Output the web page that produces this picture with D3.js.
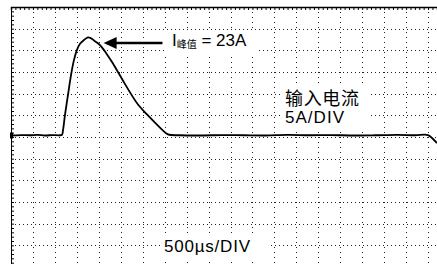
<!DOCTYPE html>
<html>
<head>
<meta charset="utf-8">
<script src="https://cdn.jsdelivr.net/npm/d3@7"></script>
<style>
  body { margin: 0; background: #fff; }
  svg { display: block; }
  text { font-family: "Liberation Sans", Arial, "Noto Sans CJK SC", sans-serif; fill: #000; }
</style>
</head>
<body>
<div id="scope"></div>
<script>
// trace: time in µs, current in A
let traceTime = [0, 220, 433, 600, 775, 950, 1100, 1162, 1185, 1230, 1298, 1367, 1435, 1503, 1572, 1663, 1754, 1822, 1913, 2027, 2164, 2301, 2437, 2574, 2711, 2893, 3098, 3280, 3440, 3576, 3850, 4300, 4800, 5300, 5800, 6300, 6800, 7300, 7800, 8300, 8800, 9200, 9499, 9590, 9704]
let traceAmps = [0.35, 0.45, 0.4, 0.5, 0.35, 0.45, 0.4, 0.5, 1.6, 5.1, 9.7, 14.3, 17.8, 20.1, 21.5, 22.4, 23.0, 22.8, 22.1, 21.2, 19.4, 17.3, 15.0, 12.6, 10.3, 7.5, 5.2, 3.3, 1.7, 0.6, 0.4, 0.35, 0.45, 0.4, 0.35, 0.5, 0.4, 0.45, 0.35, 0.4, 0.5, 0.4, 0.45, -0.23, -1.4]

// scope settings
let timePerDiv = 500   // µs
let ampsPerDiv = 5     // A
let xDivs = 20
let yDivs = [-30, 30]

// annotation
let peakLabel = 'I'
let peakSub = '峰值'
let peakValue = ' = 23A'
let arrowAmps = 21.7
let arrowTip = 2110
let arrowTail = 3450
let chanLabel = ['输入电流', '5A/DIV']
let timeLabel = '500µs/DIV'

let width = 437
let height = 264

let svg = d3.select('#scope')
  .append('svg')
  .attr('width', width)
  .attr('height', height)
  .style('background', '#fff')

let x = d3.scaleLinear().domain([0, xDivs * timePerDiv]).range([11, 450])
let y = d3.scaleLinear().domain(yDivs).range([267, 7])

// dotted graticule
let vTicks = d3.range(1, xDivs).map(d => d * timePerDiv)
let hTicks = d3.range(yDivs[0] + ampsPerDiv, yDivs[1], ampsPerDiv)

svg.append('g')
  .selectAll('line')
  .data(vTicks)
  .enter().append('line')
  .attr('x1', d => Math.round(x(d)) + 0.5)
  .attr('x2', d => Math.round(x(d)) + 0.5)
  .attr('y1', y(yDivs[1]))
  .attr('y2', height)
  .attr('stroke', '#222')
  .attr('stroke-dasharray', '1,4')

svg.append('g')
  .selectAll('line')
  .data(hTicks)
  .enter().append('line')
  .attr('x1', x(0))
  .attr('x2', width)
  .attr('y1', d => Math.round(y(d)) + 0.5)
  .attr('y2', d => Math.round(y(d)) + 0.5)
  .attr('stroke', '#222')
  .attr('stroke-dasharray', '1,3')

// border with minor ticks
let topAxis = d3.axisBottom(x)
  .tickValues(d3.range(0, xDivs * timePerDiv + 1, timePerDiv / 5))
  .tickSize(3)
  .tickFormat('')
svg.append('g')
  .attr('transform', 'translate(0,' + y(yDivs[1]) + ')')
  .call(topAxis)
  .call(g => g.select('.domain').attr('stroke-width', 1.5))

let leftAxis = d3.axisRight(y)
  .tickValues(d3.range(yDivs[0], yDivs[1] + 1, 1))
  .tickSize(3)
  .tickFormat('')
svg.append('g')
  .attr('transform', 'translate(' + x(0) + ',0)')
  .call(leftAxis)

// trace
let points = traceTime.map((t, i) => [t, traceAmps[i]])
let line = d3.line()
  .x(d => x(d[0]))
  .y(d => y(d[1]))
  .curve(d3.curveCatmullRom)

svg.append('path')
  .datum(points)
  .attr('d', line)
  .attr('fill', 'none')
  .attr('stroke', '#000')
  .attr('stroke-width', 1.8)

// ground marker
svg.append('rect')
  .attr('x', x(0) - 1)
  .attr('y', y(0) - 4.5)
  .attr('width', 3)
  .attr('height', 6)
  .attr('fill', '#000')

// labels with white boxes behind them
function boxed(g, pad) {
  let b = g.node().getBBox()
  g.insert('rect', ':first-child')
    .attr('x', b.x - pad[3])
    .attr('y', b.y - pad[0])
    .attr('width', b.width + pad[1] + pad[3])
    .attr('height', b.height + pad[0] + pad[2])
    .attr('fill', '#fff')
}

let peakG = svg.append('g')
let peakText = peakG.append('text')
  .attr('x', 172)
  .attr('y', 46)
  .style('font-size', '17px')
peakText.append('tspan').text(peakLabel)
peakText.append('tspan').text(peakSub).style('font-size', '10px').attr('dy', 2)
peakText.append('tspan').text(peakValue).attr('dy', -2)
boxed(peakG, [0, 10, 5, 7])

let chanG = svg.append('g')
chanG.append('text')
  .attr('x', 285)
  .attr('y', 105)
  .attr('textLength', 74)
  .style('font-size', '18px')
  .text(chanLabel[0])
chanG.append('text')
  .attr('x', 285)
  .attr('y', 123)
  .attr('textLength', 59)
  .style('font-size', '17px')
  .text(chanLabel[1])
boxed(chanG, [2, 10, 2, 5])

let timeG = svg.append('g')
timeG.append('text')
  .attr('x', 164)
  .attr('y', 252)
  .attr('textLength', 86)
  .style('font-size', '17px')
  .text(timeLabel)
boxed(timeG, [0, 18, 4, 2])

// arrow to the peak
svg.append('line')
  .attr('x1', x(arrowTail))
  .attr('x2', x(arrowTip) + 10)
  .attr('y1', y(arrowAmps))
  .attr('y2', y(arrowAmps))
  .attr('stroke', '#000')
  .attr('stroke-width', 2.5)

svg.append('path')
  .attr('d', d3.line()([
    [x(arrowTip), y(arrowAmps)],
    [x(arrowTip) + 13, y(arrowAmps) - 6],
    [x(arrowTip) + 13, y(arrowAmps) + 6]
  ]) + 'Z')
  .attr('fill', '#000')
</script>
</body>
</html>
